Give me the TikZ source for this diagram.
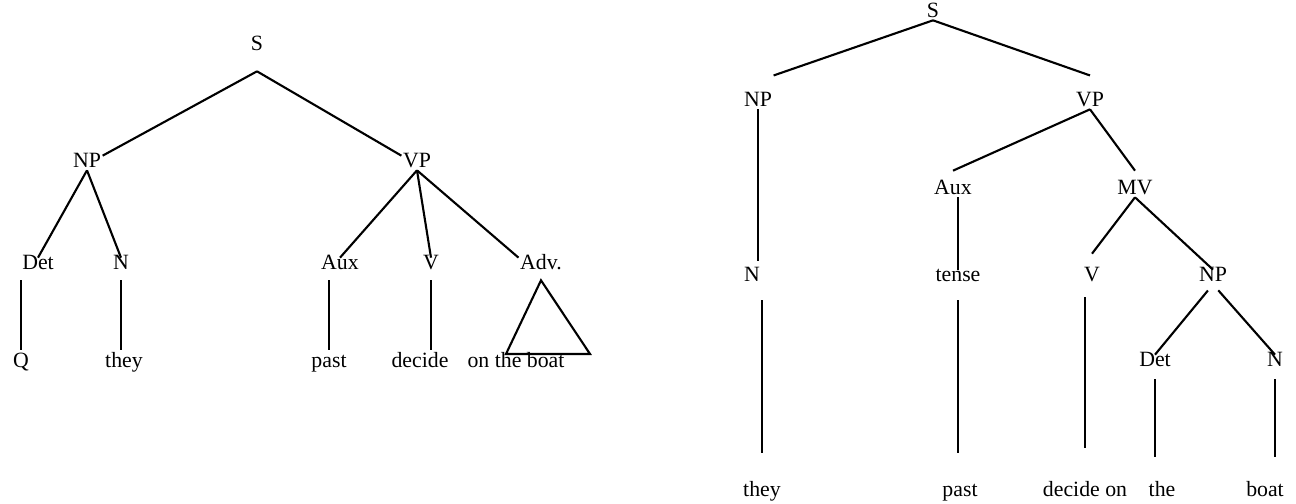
\documentclass[tikz,border=0pt]{standalone}
\usepackage{fontspec}
\setmainfont{Liberation Serif}
\usepackage{tikz}
\usetikzlibrary{calc}

\begin{document}
\begin{tikzpicture}[x=0.025cm, y=-0.025cm,
    cat/.style={font=\fontsize{15.5}{18}\selectfont,
                text height=1.5ex, text depth=.25ex, inner sep=1pt},
    br/.style={line width=1.5pt},
    stem/.style={br, shorten <=0.2cm, shorten >=0.13cm},
    longstem/.style={br, shorten <=0.4cm, shorten >=0.8cm},
    lowstem/.style={br, shorten <=0.25cm, shorten >=0.68cm},
  ]
    \useasboundingbox (0,0) rectangle (1296,504);

    % Left tree
    \node[cat] (S) at (257,46) {S};
    \node[cat] (np) at (87,163) {NP};
    \node[cat] (vp) at (417,163) {VP};
    \node[cat] (det) at (38,265) {Det};
    \node[cat] (n) at (121,265) {N};
    \node[cat] (aux) at (340,265) {Aux};
    \node[cat] (v) at (431,265) {V};
    \node[cat] (adv) at (541,265) {Adv.};
    \node[cat] (q) at (21,363) {Q};
    \node[cat] (they) at (124,363) {they};
    \node[cat] (past) at (329,363) {past};
    \node[cat] (decide) at (420,363) {decide};
    \node[cat] (boat) at (516,363) {on the boat};

    \draw[br] ([yshift=-0.45cm]S.south) -- (np.north east);
    \draw[br] ([yshift=-0.45cm]S.south) -- (vp.north west);
    \draw[br] (np.south) -- (det.north);
    \draw[br] (np.south) -- (n.north);
    \draw[br] (vp.south) -- (aux.north);
    \draw[br] (vp.south) -- (v.north);
    \draw[br] (vp.south) -- (adv.north west);

    \draw[stem] (q.north |- det.south) -- (q.north);
    \draw[stem] (n.south) -- (n.south |- they.north);
    \draw[stem] (past.north |- aux.south) -- (past.north);
    \draw[stem] (v.south) -- (v.south |- decide.north);

    \coordinate (triL) at (506,354);
    \coordinate (triR) at (590,354);
    \draw[br] ([yshift=-0.2cm]adv.south) -- (triR) -- (triL) -- cycle;

    % Right tree
    \node[cat] (S2) at (933,13) {S};
    \node[cat] (np2) at (758,102) {NP};
    \node[cat] (vp2) at (1090,102) {VP};
    \node[cat] (aux2) at (953,190) {Aux};
    \node[cat] (mv) at (1135,190) {MV};
    \node[cat] (n2) at (752,277) {N};
    \node[cat] (tense) at (958,277) {tense};
    \node[cat] (v2) at (1092,277) {V};
    \node[cat] (np3) at (1213,277) {NP};
    \node[cat] (det2) at (1155,362) {Det};
    \node[cat] (n3) at (1275,362) {N};
    \node[cat] (they2) at (762,492) {they};
    \node[cat] (past2) at (960,492) {past};
    \node[cat] (decon) at (1085,492) {decide on};
    \node[cat] (the) at (1162,492) {the};
    \node[cat] (boat2) at (1265,492) {boat};

    \draw[br] (S2.south) -- ([yshift=0.48cm]np2.north east);
    \draw[br] (S2.south) -- ([yshift=0.48cm]vp2.north);
    \draw[br, shorten >=0.22cm] (np2.south) -- (np2.south |- n2.north);
    \draw[br] (vp2.south) -- ([yshift=0.3cm]aux2.north);
    \draw[br] (vp2.south) -- ([yshift=0.3cm]mv.north);
    \draw[br] (tense.north |- aux2.south) -- (tense.north);
    \draw[br] (mv.south) -- ([yshift=0.4cm]v2.north);
    \draw[br] (mv.south) -- (np3.north);
    \draw[br, shorten <=0.2cm] (np3.south) -- (det2.north);
    \draw[br, shorten <=0.2cm] (np3.south) -- (n3.north);

    \draw[longstem] (they2.north |- n2.south) -- (they2.north);
    \draw[longstem] (tense.south) -- (tense.south |- past2.north);
    \draw[longstem, shorten <=0.32cm, shorten >=0.92cm]
      (decon.north |- v2.south) -- (decon.north);
    \draw[lowstem] (det2.south) -- (det2.south |- the.north);
    \draw[lowstem] (n3.south) -- (n3.south |- boat2.north);
  \end{tikzpicture}
\end{document}
